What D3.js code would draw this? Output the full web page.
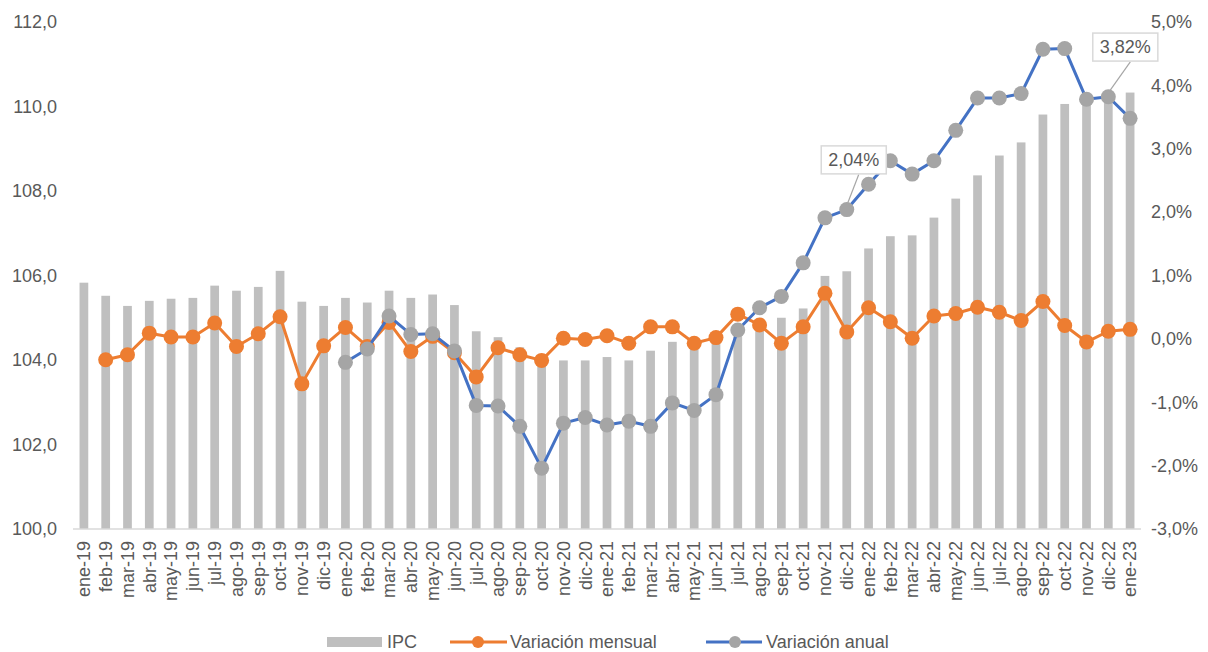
<!DOCTYPE html>
<html>
<head>
<meta charset="utf-8">
<script src="https://cdn.jsdelivr.net/npm/d3@7"></script>
<style>
  body { margin: 0; background: #fff; }
  svg text { font-family: "Liberation Sans", Arial, sans-serif; fill: #595959; }
</style>
</head>
<body>
<svg id="chart"></svg>
<script>
// data
const meses = ['ene', 'feb', 'mar', 'abr', 'may', 'jun', 'jul', 'ago', 'sep', 'oct', 'nov', 'dic']
const periodos = []
for (let y = 19; y <= 23; y++) {
  for (const m of meses) {
    if (y === 23 && m !== 'ene') break
    periodos.push(`${m}-${y}`)
  }
}

const ipc = [
  105.83, 105.52, 105.28, 105.40, 105.45, 105.47, 105.76, 105.64, 105.73, 106.11, 105.38, 105.28,
  105.47, 105.36, 105.64, 105.47, 105.55, 105.30, 104.68, 104.54, 104.30, 104.12, 103.99, 103.99,
  104.07, 103.99, 104.22, 104.43, 104.36, 104.50, 104.75, 104.93, 105.00, 105.22, 105.99, 106.10,
  106.64, 106.93, 106.95, 107.37, 107.82, 108.37, 108.84, 109.15, 109.81, 110.06, 110.20, 110.27,
  110.33
]

const varMensual = [
  null, -0.33, -0.25, 0.09, 0.03, 0.03, 0.25, -0.12, 0.08, 0.35, -0.71, -0.11,
  0.18, -0.12, 0.26, -0.20, 0.04, -0.22, -0.60, -0.14, -0.25, -0.34, 0.01, -0.01,
  0.05, -0.07, 0.19, 0.19, -0.07, 0.02, 0.39, 0.22, -0.07, 0.19, 0.72, 0.11,
  0.49, 0.27, 0.01, 0.36, 0.40, 0.50, 0.42, 0.29, 0.59, 0.21, -0.05, 0.12,
  0.15
]

const varAnual = [
  null, null, null, null, null, null, null, null, null, null, null, null,
  -0.37, -0.16, 0.36, 0.07, 0.08, -0.19, -1.05, -1.06, -1.38, -2.04, -1.33, -1.24,
  -1.36, -1.30, -1.38, -1.01, -1.13, -0.88, 0.14, 0.49, 0.67, 1.20, 1.91, 2.04,
  2.44, 2.81, 2.60, 2.81, 3.29, 3.80, 3.80, 3.87, 4.57, 4.58, 3.78, 3.82,
  3.48
]

const ticksIzq = [100, 102, 104, 106, 108, 110, 112]
const ticksDer = [-3, -2, -1, 0, 1, 2, 3, 4, 5]
const etiquetas = [
  { periodo: 'dic-21', texto: '2,04%' },
  { periodo: 'dic-22', texto: '3,82%' }
]
const series = ['IPC', 'Variación mensual', 'Variación anual']

// dimensions
const width = 1208
const height = 652
const margin = { top: 22, right: 67, bottom: 123, left: 73 }
const innerW = width - margin.left - margin.right
const innerH = height - margin.top - margin.bottom

const colores = {
  barra: '#bfbfbf',
  mensual: '#ed7d31',
  anual: '#4472c4',
  marcador: '#a5a5a5',
  eje: '#d9d9d9'
}

// excel style: comma decimal, plain hyphen for negatives
const fmt = v => v.toFixed(1).replace('.', ',')

// scales
const x = d3.scaleBand().domain(periodos).range([0, innerW]).paddingInner(0.6).paddingOuter(0.3)
const yIzq = d3.scaleLinear().domain([100, 112]).range([innerH, 0])
const yDer = d3.scaleLinear().domain([-3, 5]).range([innerH, 0])
const cx = p => x(p) + x.bandwidth() / 2

const $svg = d3.select('#chart').attr('width', width).attr('height', height)
const $g = $svg.append('g').attr('transform', `translate(${margin.left}, ${margin.top})`)

// bars
$g.selectAll('.bar')
  .data(periodos)
  .enter()
  .append('rect')
  .attr('class', 'bar')
  .attr('x', d => x(d))
  .attr('width', x.bandwidth())
  .attr('y', (d, i) => yIzq(ipc[i]))
  .attr('height', (d, i) => innerH - yIzq(ipc[i]))
  .attr('fill', colores.barra)

// x axis line
$g.append('line')
  .attr('x1', 0).attr('x2', innerW)
  .attr('y1', innerH).attr('y2', innerH)
  .attr('stroke', colores.eje)
  .attr('stroke-width', 1.5)

// left axis
const ejeIzq = $g.append('g')
  .call(d3.axisLeft(yIzq).tickValues(ticksIzq).tickSize(0).tickPadding(16).tickFormat(fmt))
ejeIzq.select('.domain').remove()
ejeIzq.selectAll('text').style('font-size', '18px')

// right axis
const ejeDer = $g.append('g')
  .attr('transform', `translate(${innerW}, 0)`)
  .call(d3.axisRight(yDer).tickValues(ticksDer).tickSize(0).tickPadding(10).tickFormat(d => fmt(d) + '%'))
ejeDer.select('.domain').remove()
ejeDer.selectAll('text').style('font-size', '18px')

// x axis labels
const ejeX = $g.append('g')
  .attr('transform', `translate(0, ${innerH})`)
  .call(d3.axisBottom(x).tickSize(0).tickPadding(0))
ejeX.select('.domain').remove()
ejeX.selectAll('text')
  .style('font-size', '18px')
  .attr('text-anchor', 'end')
  .attr('dy', '0.35em')
  .attr('transform', 'translate(0, 12) rotate(-90)')
  .attr('x', 0).attr('y', 0)

// lines
function dibujarSerie(valores, colorLinea, colorPunto) {
  const pts = periodos.map((p, i) => ({ p, v: valores[i] })).filter(d => d.v !== null)
  const linea = d3.line().x(d => cx(d.p)).y(d => yDer(d.v))
  $g.append('path')
    .datum(pts)
    .attr('d', linea)
    .attr('fill', 'none')
    .attr('stroke', colorLinea)
    .attr('stroke-width', 3)
    .attr('stroke-linejoin', 'round')
  $g.append('g')
    .selectAll('circle')
    .data(pts)
    .enter()
    .append('circle')
    .attr('cx', d => cx(d.p))
    .attr('cy', d => yDer(d.v))
    .attr('r', 7.5)
    .attr('fill', colorPunto)
}

dibujarSerie(varMensual, colores.mensual, colores.mensual)
dibujarSerie(varAnual, colores.anual, colores.marcador)

// data labels (callouts)
const offsets = [{ dx: 7, dy: -50 }, { dx: 17, dy: -50 }]
etiquetas.forEach((e, k) => {
  const i = periodos.indexOf(e.periodo)
  const px = cx(e.periodo)
  const py = yDer(varAnual[i])
  const bx = px + offsets[k].dx
  const by = py + offsets[k].dy
  const $lab = $g.append('g').attr('class', 'callout')
  $lab.append('line')
    .attr('x1', px).attr('y1', py - 4)
    .attr('x2', bx + 5).attr('y2', by + 15)
    .attr('stroke', '#a6a6a6')
    .attr('stroke-width', 1.2)
  const $rect = $lab.append('rect')
  const t = $lab.append('text')
    .attr('x', bx).attr('y', by)
    .attr('text-anchor', 'middle')
    .attr('dy', '0.35em')
    .style('font-size', '18px')
    .text(e.texto)
  const bb = t.node().getBBox()
  $rect
    .attr('x', bb.x - 7).attr('y', bb.y - 4)
    .attr('width', bb.width + 14).attr('height', bb.height + 8)
    .attr('fill', '#fff')
    .attr('stroke', '#d9d9d9')
    .attr('stroke-width', 1.5)
})

// legend
const $leg = $svg.append('g').attr('transform', 'translate(0, 642)')
$leg.append('rect').attr('x', 327).attr('y', -5).attr('width', 55).attr('height', 10).attr('fill', colores.barra)
$leg.append('text').attr('x', 387).attr('dy', '0.35em').style('font-size', '18px').text(series[0])

$leg.append('line').attr('x1', 450).attr('x2', 507).attr('stroke', colores.mensual).attr('stroke-width', 3)
$leg.append('circle').attr('cx', 478).attr('r', 6).attr('fill', colores.mensual)
$leg.append('text').attr('x', 510).attr('dy', '0.35em').style('font-size', '18px').text(series[1])

$leg.append('line').attr('x1', 706).attr('x2', 762).attr('stroke', colores.anual).attr('stroke-width', 3)
$leg.append('circle').attr('cx', 735).attr('r', 6).attr('fill', colores.marcador)
$leg.append('text').attr('x', 766).attr('dy', '0.35em').style('font-size', '18px').text(series[2])
</script>
</body>
</html>
